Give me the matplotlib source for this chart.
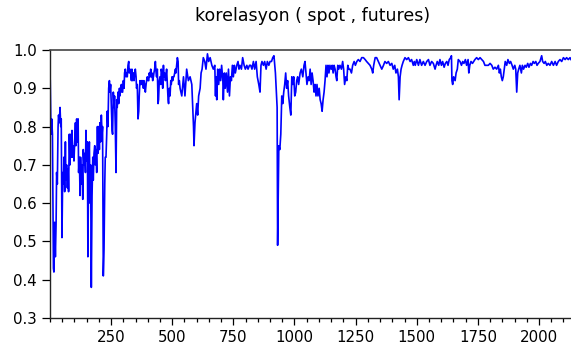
import numpy as np
import matplotlib
matplotlib.use("Agg")
import matplotlib.pyplot as plt
from matplotlib.ticker import MultipleLocator

plt.rcParams['font.family'] = ['DejaVu Sans']

# ─── Series read off the reference (observation number, correlation) ─────────
# part 1: obs 1 - 529 (very noisy start)
obs_a = [1, 4, 7, 10, 14, 16, 19, 22, 25, 27, 30, 33, 35, 38, 41, 44, 46, 49,
         52, 55, 57, 60, 63, 65, 68, 71, 74, 76, 79, 82, 85, 87, 90, 93, 95, 98,
         104, 106, 109, 112, 115, 117, 120, 123, 125, 128, 131, 134, 136, 139,
         142, 145, 147, 150, 153, 155, 158, 161, 164, 166, 169, 172, 175, 177,
         180, 183, 185, 188, 191, 194, 196, 199, 202, 204, 207, 210, 213, 215,
         218, 221, 224, 226, 229, 232, 234, 237, 240, 243, 245, 248, 251, 254,
         256, 259, 262, 264, 267, 270, 273, 275, 278, 281, 284, 286, 289, 292,
         294, 297, 300, 303, 305, 308, 311, 314, 316, 319, 322, 324, 327, 330,
         333, 335, 338, 341, 344, 346, 349, 352, 354, 357, 360, 363, 365, 368,
         371, 374, 376, 379, 382, 384, 387, 390, 393, 395, 398, 401, 404, 406,
         409, 412, 414, 417, 420, 423, 425, 428, 431, 434, 436, 439, 442, 444,
         447, 450, 453, 455, 458, 461, 464, 466, 469, 472, 474, 477, 480, 483,
         485, 488, 491, 494, 496, 499, 502, 504, 507, 510, 513, 515, 518, 521,
         524, 526, 529]
val_a = [0.92, 0.78, 0.82, 0.78, 0.43, 0.42, 0.55, 0.46, 0.55, 0.68, 0.65, 0.80,
         0.83, 0.81, 0.85, 0.80, 0.82, 0.51, 0.68, 0.65, 0.72, 0.63, 0.76, 0.66,
         0.70, 0.64, 0.69, 0.63, 0.78, 0.70, 0.78, 0.72, 0.79, 0.72, 0.75, 0.71,
         0.81, 0.75, 0.82, 0.76, 0.82, 0.68, 0.72, 0.62, 0.72, 0.65, 0.70, 0.61,
         0.74, 0.70, 0.73, 0.68, 0.79, 0.71, 0.76, 0.46, 0.70, 0.76, 0.60, 0.70,
         0.38, 0.62, 0.72, 0.66, 0.73, 0.75, 0.70, 0.74, 0.68, 0.80, 0.73, 0.80,
         0.74, 0.81, 0.76, 0.83, 0.78, 0.80, 0.41, 0.48, 0.65, 0.72, 0.72, 0.78,
         0.84, 0.80, 0.90, 0.92, 0.89, 0.91, 0.85, 0.79, 0.78, 0.89, 0.85, 0.88,
         0.80, 0.68, 0.87, 0.85, 0.89, 0.86, 0.90, 0.88, 0.90, 0.91, 0.89, 0.89,
         0.92, 0.90, 0.94, 0.95, 0.93, 0.94, 0.93, 0.96, 0.97, 0.94, 0.95, 0.94,
         0.92, 0.95, 0.92, 0.94, 0.92, 0.94, 0.95, 0.93, 0.90, 0.91, 0.82, 0.84,
         0.88, 0.92, 0.91, 0.92, 0.91, 0.92, 0.90, 0.92, 0.91, 0.89, 0.91, 0.92,
         0.93, 0.92, 0.92, 0.94, 0.93, 0.95, 0.93, 0.94, 0.92, 0.93, 0.94, 0.95,
         0.97, 0.94, 0.93, 0.95, 0.86, 0.87, 0.92, 0.93, 0.91, 0.95, 0.94, 0.90,
         0.96, 0.93, 0.94, 0.92, 0.93, 0.95, 0.91, 0.87, 0.86, 0.90, 0.88, 0.92,
         0.91, 0.93, 0.92, 0.93, 0.93, 0.94, 0.95, 0.94, 0.96, 0.98, 0.97, 0.91,
         0.92]

# part 2: obs 532 - 1343 (dips near 590 and 930)
obs_b = [532, 539, 546, 552, 559, 566, 573, 580, 587, 589, 593, 600, 604, 608,
         614, 618, 622, 627, 633, 638, 644, 649, 655, 662, 668, 674, 677, 679,
         682, 686, 690, 694, 698, 702, 707, 709, 713, 717, 721, 726, 730, 734,
         738, 742, 746, 750, 754, 758, 764, 769, 773, 777, 783, 788, 794, 799,
         805, 810, 816, 821, 826, 832, 837, 843, 848, 854, 859, 863, 867, 873,
         878, 884, 889, 895, 900, 906, 911, 916, 922, 926, 929, 931, 936, 940,
         944, 948, 952, 956, 960, 964, 968, 972, 976, 981, 985, 989, 993, 997,
         1001, 1005, 1009, 1013, 1017, 1023, 1028, 1034, 1039, 1043, 1047, 1051,
         1056, 1060, 1064, 1068, 1072, 1076, 1080, 1084, 1088, 1092, 1096, 1101,
         1105, 1109, 1113, 1117, 1121, 1125, 1129, 1133, 1137, 1141, 1145, 1150,
         1154, 1158, 1162, 1166, 1170, 1173, 1177, 1181, 1186, 1192, 1197, 1201,
         1205, 1210, 1214, 1218, 1222, 1227, 1233, 1238, 1244, 1249, 1255, 1261,
         1268, 1275, 1282, 1289, 1295, 1302, 1309, 1316, 1320, 1324, 1330, 1336,
         1343]
val_b = [0.90, 0.88, 0.93, 0.88, 0.95, 0.92, 0.93, 0.91, 0.80, 0.75, 0.81, 0.86,
         0.83, 0.88, 0.90, 0.94, 0.95, 0.98, 0.97, 0.95, 0.99, 0.97, 0.98, 0.96,
         0.95, 0.96, 0.88, 0.93, 0.87, 0.95, 0.91, 0.95, 0.92, 0.96, 0.92, 0.87,
         0.94, 0.90, 0.94, 0.89, 0.95, 0.88, 0.93, 0.92, 0.96, 0.93, 0.96, 0.94,
         0.96, 0.97, 0.95, 0.96, 0.95, 0.98, 0.96, 0.95, 0.96, 0.95, 0.96, 0.96,
         0.95, 0.97, 0.95, 0.97, 0.93, 0.91, 0.89, 0.96, 0.97, 0.96, 0.97, 0.95,
         0.97, 0.96, 0.97, 0.97, 0.98, 0.985, 0.94, 0.89, 0.85, 0.49, 0.75, 0.74,
         0.78, 0.88, 0.86, 0.89, 0.91, 0.94, 0.90, 0.92, 0.88, 0.85, 0.83, 0.93,
         0.91, 0.93, 0.88, 0.89, 0.92, 0.93, 0.91, 0.94, 0.95, 0.93, 0.96, 0.97,
         0.94, 0.91, 0.93, 0.92, 0.95, 0.91, 0.94, 0.92, 0.89, 0.91, 0.88, 0.91,
         0.88, 0.90, 0.87, 0.86, 0.84, 0.87, 0.89, 0.92, 0.96, 0.93, 0.96, 0.94,
         0.96, 0.95, 0.96, 0.94, 0.96, 0.95, 0.93, 0.92, 0.96, 0.95, 0.96, 0.95,
         0.97, 0.95, 0.91, 0.93, 0.92, 0.96, 0.95, 0.95, 0.94, 0.96, 0.97, 0.96,
         0.97, 0.975, 0.97, 0.98, 0.98, 0.975, 0.97, 0.965, 0.96, 0.95, 0.94, 0.96,
         0.98, 0.98, 0.97]

# part 3: obs 1350 - 2131 (calmer tail)
obs_c = [1350, 1357, 1364, 1370, 1377, 1384, 1391, 1398, 1404, 1410, 1415, 1421,
         1425, 1428, 1432, 1436, 1440, 1445, 1452, 1459, 1466, 1473, 1479, 1486,
         1490, 1494, 1500, 1507, 1513, 1520, 1527, 1534, 1541, 1548, 1554, 1561,
         1568, 1575, 1579, 1584, 1590, 1595, 1601, 1606, 1612, 1617, 1623, 1628,
         1633, 1639, 1642, 1644, 1647, 1651, 1657, 1661, 1666, 1670, 1677, 1683,
         1688, 1693, 1699, 1704, 1710, 1713, 1717, 1722, 1728, 1733, 1738, 1745,
         1752, 1759, 1766, 1773, 1779, 1786, 1793, 1800, 1807, 1813, 1820, 1827,
         1834, 1838, 1842, 1846, 1850, 1854, 1858, 1862, 1868, 1873, 1879, 1884,
         1890, 1895, 1901, 1905, 1909, 1913, 1917, 1922, 1928, 1932, 1937, 1943,
         1948, 1954, 1959, 1965, 1970, 1976, 1981, 1987, 1992, 1997, 2004, 2011,
         2015, 2021, 2026, 2032, 2038, 2045, 2052, 2059, 2066, 2072, 2079, 2086,
         2093, 2100, 2107, 2113, 2120, 2127, 2131]
val_c = [0.96, 0.95, 0.96, 0.97, 0.965, 0.97, 0.96, 0.965, 0.95, 0.96, 0.94,
         0.95, 0.93, 0.87, 0.93, 0.95, 0.96, 0.97, 0.98, 0.975, 0.98, 0.97, 0.975,
         0.96, 0.97, 0.96, 0.975, 0.96, 0.975, 0.96, 0.97, 0.96, 0.97, 0.975, 0.96,
         0.97, 0.965, 0.95, 0.96, 0.97, 0.96, 0.975, 0.96, 0.97, 0.955, 0.965, 0.97,
         0.96, 0.975, 0.98, 0.985, 0.92, 0.91, 0.93, 0.92, 0.94, 0.95, 0.975, 0.97,
         0.96, 0.97, 0.965, 0.975, 0.96, 0.975, 0.94, 0.96, 0.97, 0.965, 0.97,
         0.975, 0.98, 0.975, 0.98, 0.975, 0.97, 0.96, 0.96, 0.96, 0.965, 0.96, 0.95,
         0.955, 0.95, 0.96, 0.94, 0.95, 0.93, 0.92, 0.93, 0.95, 0.97, 0.96, 0.975,
         0.965, 0.97, 0.96, 0.95, 0.96, 0.95, 0.89, 0.94, 0.95, 0.96, 0.94, 0.96,
         0.95, 0.96, 0.955, 0.965, 0.955, 0.965, 0.96, 0.97, 0.965, 0.97, 0.96,
         0.965, 0.97, 0.985, 0.97, 0.965, 0.97, 0.96, 0.965, 0.96, 0.97, 0.96, 0.97,
         0.96, 0.97, 0.975, 0.97, 0.98, 0.975, 0.98, 0.975, 0.98, 0.975]

obs = obs_a + obs_b + obs_c
corr = val_a + val_b + val_c

x_ticks = [250, 500, 750, 1000, 1250, 1500, 1750, 2000]
y_ticks = [0.3, 0.4, 0.5, 0.6, 0.7, 0.8, 0.9, 1.0]

# ─── Plot ────────────────────────────────────────────────────────────────────
fig = plt.figure(figsize=(5.71, 3.52), dpi=100)
ax = fig.add_axes([50 / 571, 34 / 352, 1 - 50 / 571, 268 / 352])

ax.plot(obs, corr, color='#0000ff', linewidth=1.2)

ax.set_xlim(0, 2131)
ax.set_ylim(0.3, 1.0)
ax.set_xticks(x_ticks)
ax.xaxis.set_minor_locator(MultipleLocator(50))
ax.set_yticks(y_ticks)
ax.set_yticklabels([f'{v:.1f}' for v in y_ticks])

ax.tick_params(axis='x', which='major', direction='out', length=5,
               width=0.9, labelsize=10.8, pad=3.5)
ax.tick_params(axis='x', which='minor', direction='out', length=2.8, width=0.9)
ax.tick_params(axis='y', which='major', direction='out', length=6,
               width=0.9, labelsize=10.8, pad=3.2)
ax.spines['right'].set_visible(False)
for side in ['left', 'bottom']:
    ax.spines[side].set_linewidth(1.0)
    ax.spines[side].set_color('#222222')
ax.spines['top'].set_linewidth(1.2)
ax.spines['top'].set_color('#444444')

fig.text(313 / 571, 1 - 21 / 352, 'korelasyon ( spot , futures)',
         ha='center', va='baseline', fontsize=12.5)

plt.savefig("out.png", dpi=100)
